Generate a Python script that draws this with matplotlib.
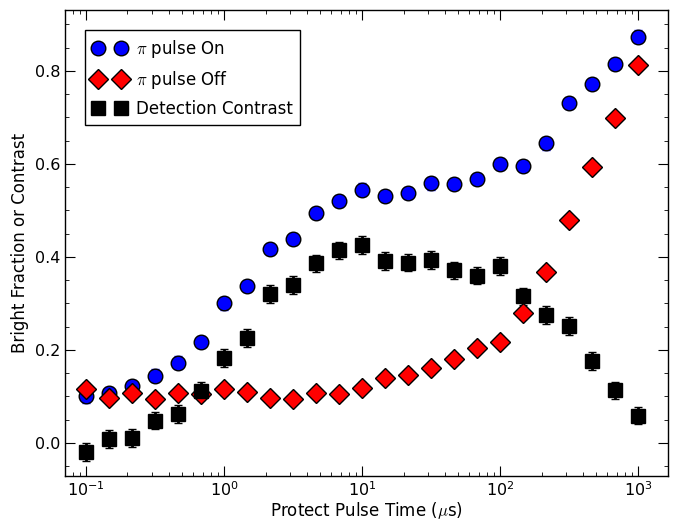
import matplotlib
matplotlib.use("Agg")
import matplotlib.pyplot as plt
import numpy as np
from matplotlib.ticker import MultipleLocator, LogLocator
from matplotlib.lines import Line2D

plt.rcParams.update({
    "font.family": ["DejaVu Sans"],
    "mathtext.fontset": "cm",
    "mathtext.default": "it",
    "xtick.direction": "in",
    "ytick.direction": "in",
    "xtick.top": True,
    "ytick.right": True,
    "xtick.major.size": 7,
    "xtick.minor.size": 3,
    "ytick.major.size": 7,
    "ytick.minor.size": 3,
    "xtick.labelsize": 11.5,
    "ytick.labelsize": 11.5,
    "axes.linewidth": 1.0,
})

time_us = [0.1, 0.147, 0.215, 0.316, 0.464, 0.681, 1.0, 1.47, 2.15, 3.16, 4.64, 6.81,
           10, 14.7, 21.5, 31.6, 46.4, 68.1, 100, 147, 215, 316, 464, 681, 1000]
pi_on = [0.100, 0.108, 0.122, 0.145, 0.173, 0.217, 0.300, 0.338, 0.417, 0.439, 0.495, 0.520,
         0.545, 0.532, 0.537, 0.558, 0.556, 0.568, 0.600, 0.596, 0.644, 0.732, 0.771, 0.814, 0.874]
pi_on_err = [0.013] * 25
pi_off = [0.117, 0.097, 0.108, 0.095, 0.108, 0.106, 0.115, 0.110, 0.096, 0.095, 0.108, 0.105,
          0.119, 0.139, 0.147, 0.161, 0.181, 0.205, 0.218, 0.279, 0.368, 0.479, 0.593, 0.698, 0.813]
pi_off_err = [0.012] * 25
contrast = [-0.019, 0.008, 0.010, 0.048, 0.062, 0.112, 0.183, 0.226, 0.320, 0.340, 0.386, 0.414,
            0.425, 0.391, 0.388, 0.394, 0.371, 0.360, 0.381, 0.315, 0.275, 0.251, 0.176, 0.113, 0.059]
contrast_err = [0.019] * 25

fig = plt.figure(figsize=(6.82, 5.21), dpi=100)
ax = fig.add_axes([65/682, 1-476/521, (668-65)/682, (476-10)/521])

ax.errorbar(time_us, pi_on, yerr=pi_on_err, fmt="o", color="#0000ff", mec="black", mew=1,
            ms=10.5, ecolor="#0000ff", elinewidth=2, capsize=3, capthick=2, zorder=3)
ax.errorbar(time_us, pi_off, yerr=pi_off_err, fmt="D", color="#ff0000", mec="black", mew=1,
            ms=10, ecolor="#ff0000", elinewidth=2, capsize=3, capthick=2, zorder=3)
ax.errorbar(time_us, contrast, yerr=contrast_err, fmt="s", color="black", mec="black", mew=1,
            ms=9.5, ecolor="black", elinewidth=2, capsize=3, capthick=2, zorder=3)

ax.set_xscale("log")
ax.set_xlim(0.0705, 1650)
ax.set_ylim(-0.071, 0.931)
ax.yaxis.set_major_locator(MultipleLocator(0.2))
ax.yaxis.set_minor_locator(MultipleLocator(0.05))
ax.xaxis.set_minor_locator(LogLocator(base=10, subs=np.arange(2, 10), numticks=20))
ax.tick_params(axis="x", which="major", pad=3)

ax.set_xlabel(r"Protect Pulse Time ($\mu$s)", fontsize=12, labelpad=0.5)
ax.set_ylabel("Bright Fraction or Contrast", fontsize=12, labelpad=4)

handles = [
    Line2D([], [], ls="none", marker="o", color="#0000ff", mec="black", mew=1, ms=10.5),
    Line2D([], [], ls="none", marker="D", color="#ff0000", mec="black", mew=1, ms=10),
    Line2D([], [], ls="none", marker="s", color="black", mec="black", mew=1, ms=9.5),
]
labels = [r"$\pi$ pulse On", r"$\pi$ pulse Off", "Detection Contrast"]
leg = ax.legend(handles, labels, loc="upper left", numpoints=2, fancybox=False, framealpha=1,
                edgecolor="black", fontsize=12, borderaxespad=1.2, handletextpad=0.6,
                labelspacing=0.55, handlelength=2.0, borderpad=0.45)
leg.get_frame().set_linewidth(1.0)

fig.savefig("out.png", dpi=100)
